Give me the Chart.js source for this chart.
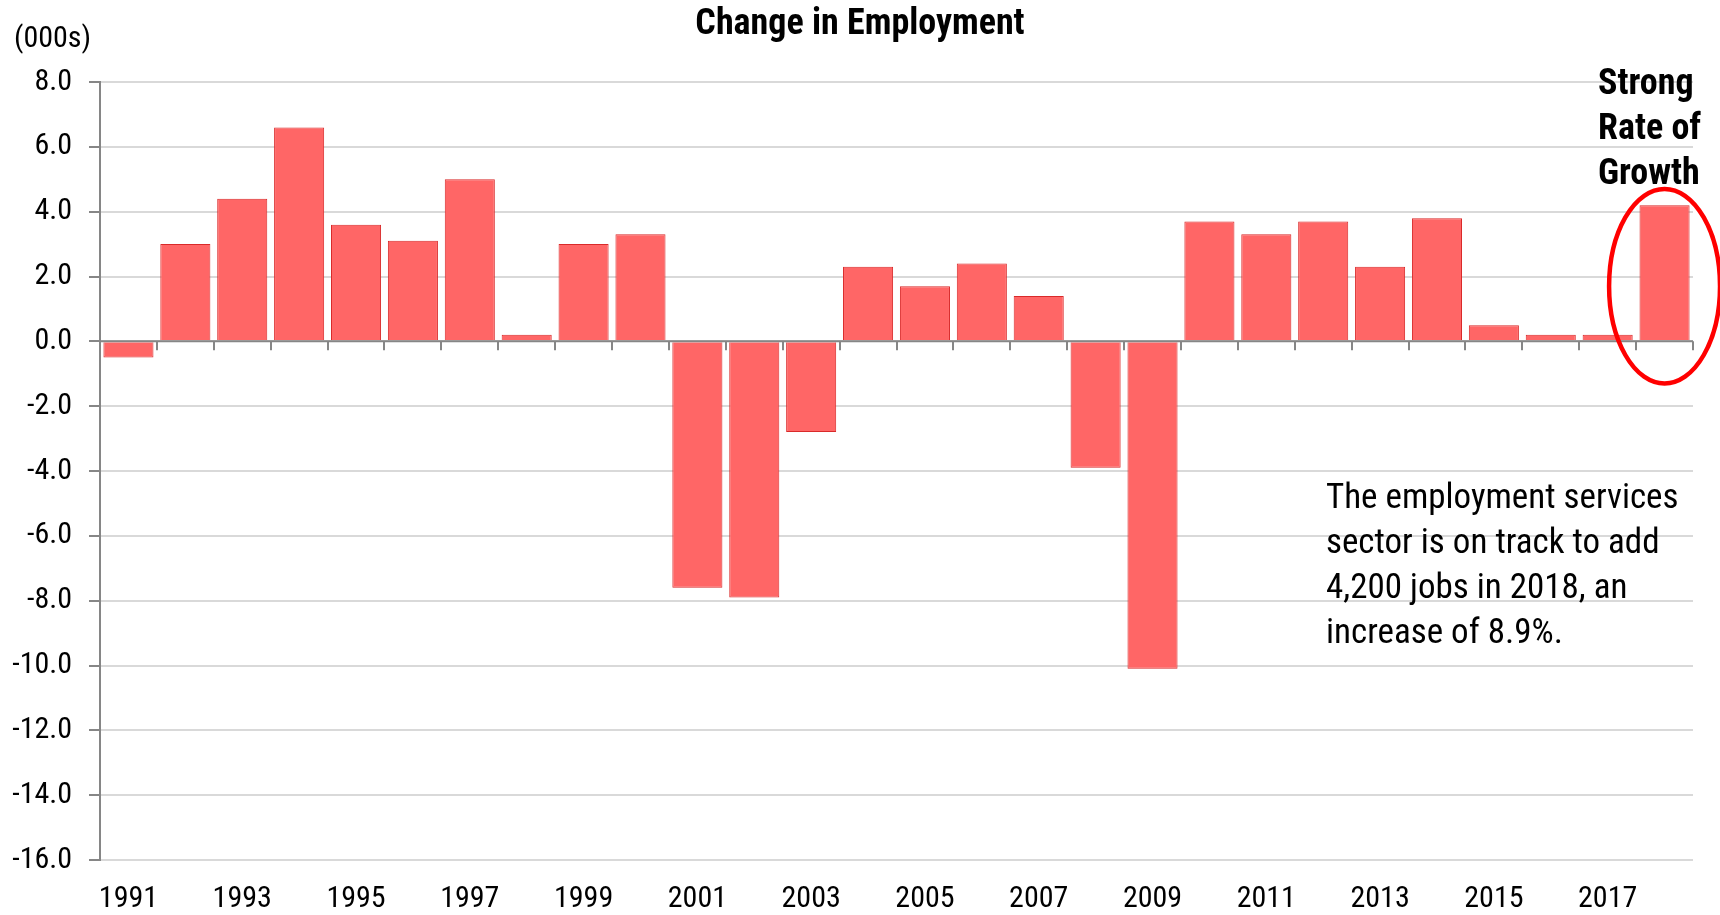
<!DOCTYPE html>
<html>
<head>
<meta charset="utf-8">
<script src="https://cdn.jsdelivr.net/npm/chart.js@4.4.1/dist/chart.umd.min.js"></script>
<style>
  html, body { margin: 0; padding: 0; background: #ffffff; }
  #wrap { position: relative; width: 1720px; height: 915px; }
  canvas { display: block; }
</style>
</head>
<body>
<div id="wrap"><canvas id="c" width="1720" height="915"></canvas></div>
<script>
const years = [1991,1992,1993,1994,1995,1996,1997,1998,1999,2000,2001,2002,2003,2004,2005,2006,2007,2008,2009,2010,2011,2012,2013,2014,2015,2016,2017,2018];
const changeInEmployment = [-0.5,3.0,4.4,6.6,3.6,3.1,5.0,0.2,3.0,3.3,-7.6,-7.9,-2.8,2.3,1.7,2.4,1.4,-3.9,-10.1,3.7,3.3,3.7,2.3,3.8,0.5,0.2,0.2,4.2];
const yMin = -16, yMax = 8, yStep = 2;
const titleText = 'Change in Employment';
const unitText = '(000s)';
const calloutLines = ['Strong', 'Rate of', 'Growth'];
const noteLines = ['The employment services', 'sector is on track to add', '4,200 jobs in 2018, an', 'increase of 8.9%.'];

const FONT = "'Roboto Condensed', 'Liberation Sans Narrow', 'Arial Narrow', 'Liberation Sans', Arial, sans-serif";

const overlay = {
  id: 'overlay',
  afterDatasetsDraw(chart) {
    const ctx = chart.ctx;
    const xs = chart.scales.x, ys = chart.scales.y;
    const y0 = ys.getPixelForValue(0);
    const n = years.length;
    const step = (xs.right - xs.left) / n;
    ctx.save();
    // zero axis line
    ctx.strokeStyle = '#868686';
    ctx.lineWidth = 2;
    ctx.beginPath();
    ctx.moveTo(xs.left, y0);
    ctx.lineTo(xs.right, y0);
    ctx.stroke();
    // tick marks at category boundaries
    ctx.beginPath();
    for (let i = 1; i <= n; i++) {
      const x = Math.round(xs.left + i * step);
      ctx.moveTo(x, y0);
      ctx.lineTo(x, y0 + 9);
    }
    ctx.stroke();

    // ellipse around last bar
    const last = n - 1;
    const cx = xs.getPixelForValue(last);
    const cy = ys.getPixelForValue(1.7);
    const ry = ys.getPixelForValue(1.7 - 3.0) - cy;
    ctx.strokeStyle = '#ff0000';
    ctx.lineWidth = 4.5;
    ctx.beginPath();
    ctx.ellipse(cx, cy, step * 0.975, ry, 0, 0, Math.PI * 2);
    ctx.stroke();

    // titles and texts
    ctx.fillStyle = '#000000';
    ctx.textBaseline = 'alphabetic';
    ctx.textAlign = 'center';
    ctx.font = "bold 36px " + FONT;
    ctx.fillText(titleText, chart.width / 2, 34);
    ctx.textAlign = 'left';
    ctx.font = "30px " + FONT;
    ctx.fillText(unitText, 14, 47);

    ctx.font = "bold 36px " + FONT;
    calloutLines.forEach((t, i) => ctx.fillText(t, 1598, 94 + i * 45));

    ctx.font = "35px " + FONT;
    noteLines.forEach((t, i) => ctx.fillText(t, 1326, 508 + i * 45));
    ctx.restore();
  }
};

new Chart(document.getElementById('c'), {
  type: 'bar',
  data: {
    labels: years.map(String),
    datasets: [{
      data: changeInEmployment,
      backgroundColor: '#ff6666',
      borderColor: '#d92a2a',
      borderWidth: 1,
      barPercentage: 0.88,
      categoryPercentage: 1.0
    }]
  },
  options: {
    responsive: false,
    animation: false,
    events: [],
    layout: { padding: { top: 82, right: 27, bottom: 0, left: 0 } },
    plugins: { legend: { display: false }, tooltip: { enabled: false }, title: { display: false } },
    scales: {
      x: {
        offset: true,
        grid: { display: false, drawTicks: false },
        border: { display: false },
        ticks: {
          autoSkip: false, maxRotation: 0, minRotation: 0, padding: 21,
          color: '#000000',
          font: { family: FONT, size: 30 },
          callback: function(v, i) { return i % 2 === 0 ? years[i] : ''; }
        },
        afterFit(scale) { scale.height = 55; }
      },
      y: {
        min: yMin, max: yMax,
        ticks: {
          stepSize: yStep, padding: 17, color: '#000000',
          font: { family: FONT, size: 30 },
          callback: v => v.toFixed(1)
        },
        grid: { color: '#d9d9d9', lineWidth: 2, tickColor: '#868686', tickLength: 11 },
        border: { color: '#868686', width: 2 },
        afterFit(scale) { scale.width = 100; }
      }
    }
  },
  plugins: [overlay]
});
</script>
</body>
</html>
